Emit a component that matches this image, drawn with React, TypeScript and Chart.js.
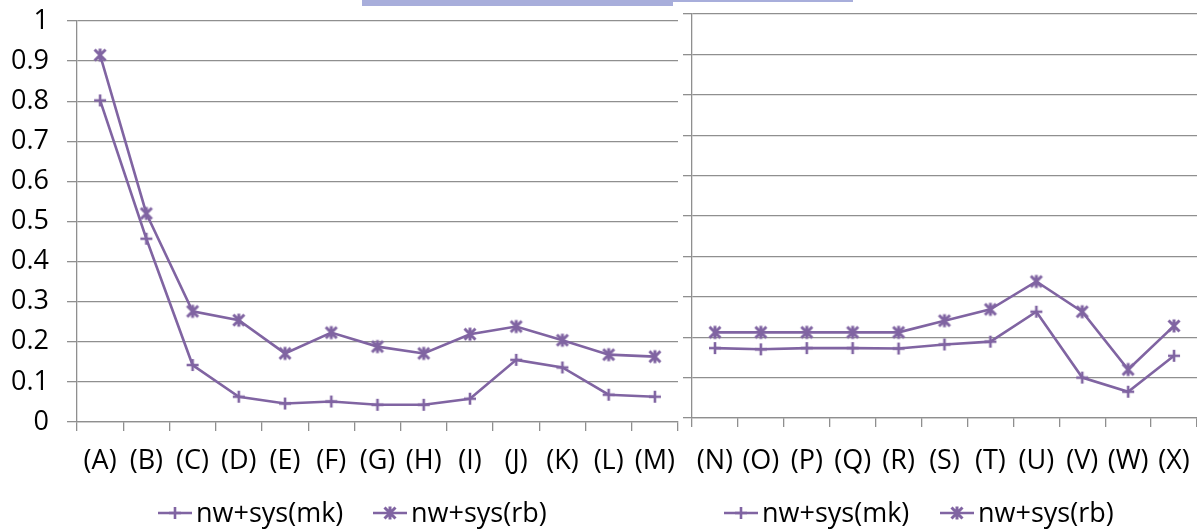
import React, { useEffect, useRef } from 'react';
import { Chart, registerables } from 'chart.js';

Chart.register(...registerables);

// ---------- data ----------
const leftCategories = ['(A)', '(B)', '(C)', '(D)', '(E)', '(F)', '(G)', '(H)', '(I)', '(J)', '(K)', '(L)', '(M)'];
const rightCategories = ['(N)', '(O)', '(P)', '(Q)', '(R)', '(S)', '(T)', '(U)', '(V)', '(W)', '(X)'];

const leftMk = [0.802, 0.457, 0.142, 0.063, 0.046, 0.051, 0.043, 0.043, 0.058, 0.155, 0.136, 0.068, 0.063];
const leftRb = [0.915, 0.52, 0.276, 0.254, 0.171, 0.223, 0.188, 0.171, 0.219, 0.238, 0.204, 0.168, 0.163];

const rightMk = [0.173, 0.17, 0.173, 0.173, 0.172, 0.182, 0.189, 0.263, 0.1, 0.065, 0.154];
const rightRb = [0.212, 0.212, 0.212, 0.212, 0.212, 0.241, 0.269, 0.338, 0.263, 0.12, 0.228];

const seriesNames = ['nw+sys(mk)', 'nw+sys(rb)'];
const yTickLabels = ['0', '0.1', '0.2', '0.3', '0.4', '0.5', '0.6', '0.7', '0.8', '0.9', '1'];

// ---------- styles ----------
const PURPLE = '#8064A2';
const GRID = '#8f8f8f';
const FONT = "'Open Sans', sans-serif";
const FONT_SIZE = 27;

function makeMarker(kind: 'plus' | 'star'): HTMLCanvasElement {
  const c = document.createElement('canvas');
  c.width = 16;
  c.height = 16;
  const ctx = c.getContext('2d')!;
  ctx.strokeStyle = PURPLE;
  ctx.lineCap = 'butt';
  ctx.beginPath();
  if (kind === 'plus') {
    ctx.lineWidth = 2.6;
    ctx.moveTo(2, 8);
    ctx.lineTo(14, 8);
    ctx.moveTo(8, 2);
    ctx.lineTo(8, 14);
  } else {
    ctx.lineWidth = 3;
    ctx.moveTo(2.5, 2.5);
    ctx.lineTo(13.5, 13.5);
    ctx.moveTo(2.5, 13.5);
    ctx.lineTo(13.5, 2.5);
    ctx.moveTo(8, 1.5);
    ctx.lineTo(8, 14.5);
  }
  ctx.stroke();
  return c;
}

type LegendItem = { x: number; label: string; marker: HTMLCanvasElement };

const legendPlugin = {
  id: 'customLegend',
  afterDraw(chart: any, _args: any, opts: any) {
    const items: LegendItem[] = opts.items || [];
    const ctx = chart.ctx as CanvasRenderingContext2D;
    const y = opts.y;
    ctx.save();
    items.forEach((it) => {
      ctx.strokeStyle = PURPLE;
      ctx.lineWidth = 2.6;
      ctx.beginPath();
      ctx.moveTo(it.x, y);
      ctx.lineTo(it.x + 34, y);
      ctx.stroke();
      ctx.drawImage(it.marker, it.x + 17 - 8, y - 8);
      ctx.fillStyle = '#000';
      ctx.font = `${FONT_SIZE}px ${FONT}`;
      ctx.textAlign = 'left';
      ctx.textBaseline = 'middle';
      ctx.fillText(it.label, it.x + 38, y + 1);
    });
    ctx.restore();
  },
};

function buildConfig(
  categories: string[],
  mk: number[],
  rb: number[],
  yWidth: number,
  yTickLen: number,
  showYLabels: boolean,
  xHeight: number,
  xPad: number,
  padTop: number,
  padRight: number,
  legendItems: { x: number; label: string; kind: 'plus' | 'star' }[]
): any {
  const plus = makeMarker('plus');
  const star = makeMarker('star');
  return {
    type: 'line',
    data: {
      labels: categories,
      datasets: [
        {
          label: seriesNames[0],
          data: mk,
          borderColor: PURPLE,
          backgroundColor: PURPLE,
          borderWidth: 2.6,
          pointStyle: plus,
          pointRadius: 8,
          tension: 0,
          clip: false,
        },
        {
          label: seriesNames[1],
          data: rb,
          borderColor: PURPLE,
          backgroundColor: PURPLE,
          borderWidth: 2.6,
          pointStyle: star,
          pointRadius: 8,
          tension: 0,
          clip: false,
        },
      ],
    },
    options: {
      responsive: false,
      animation: false,
      events: [],
      layout: { autoPadding: false, padding: { top: padTop, right: padRight, left: 0, bottom: 0 } },
      plugins: {
        legend: { display: false },
        tooltip: { enabled: false },
        customLegend: {
          y: 513,
          items: legendItems.map((l) => ({ x: l.x, label: l.label, marker: l.kind === 'plus' ? plus : star })),
        },
      },
      scales: {
        x: {
          type: 'category',
          offset: true,
          grid: {
            offset: true,
            drawOnChartArea: false,
            drawTicks: true,
            tickLength: 9,
            color: GRID,
            lineWidth: 1.3,
          },
          border: { display: true, color: GRID, width: 1.3 },
          ticks: {
            autoSkip: false,
            maxRotation: 0,
            minRotation: 0,
            padding: xPad,
            color: '#000',
            font: { family: FONT, size: FONT_SIZE },
          },
          afterFit(scale: any) {
            scale.height = xHeight;
            scale.paddingLeft = 0;
            scale.paddingRight = 0;
          },
        },
        y: {
          min: 0,
          max: 1,
          grid: {
            drawTicks: true,
            tickLength: yTickLen,
            color: GRID,
            lineWidth: 1.3,
          },
          border: { display: true, color: GRID, width: 1.3 },
          ticks: {
            stepSize: 0.1,
            display: showYLabels,
            padding: 18,
            color: '#000',
            font: { family: FONT, size: FONT_SIZE },
            callback: (_v: any, i: number) => yTickLabels[i],
          },
          afterFit(scale: any) {
            scale.width = yWidth;
            scale.paddingTop = 0;
            scale.paddingBottom = 0;
          },
        },
      },
    },
    plugins: [legendPlugin],
  };
}

export default function App() {
  const leftRef = useRef<HTMLCanvasElement>(null);
  const rightRef = useRef<HTMLCanvasElement>(null);

  useEffect(() => {
    const left = new Chart(
      leftRef.current!,
      buildConfig(leftCategories, leftMk, leftRb, 77, 10, true, 109, 14, 21, 5, [
        { x: 158, label: seriesNames[0], kind: 'plus' },
        { x: 373, label: seriesNames[1], kind: 'star' },
      ])
    );
    const right = new Chart(
      rightRef.current!,
      buildConfig(rightCategories, rightMk, rightRb, 12, 9, false, 113, 18, 14, 0, [
        { x: 724 - 680, label: seriesNames[0], kind: 'plus' },
        { x: 940 - 680, label: seriesNames[1], kind: 'star' },
      ])
    );
    return () => {
      left.destroy();
      right.destroy();
    };
  }, []);

  return (
    <div style={{ position: 'fixed', left: 0, top: 0, width: 1197, height: 531, background: '#fff', overflow: 'hidden' }}>
      <canvas ref={leftRef} width={683} height={531} style={{ position: 'absolute', left: 0, top: 0, width: 683, height: 531 }} />
      <canvas ref={rightRef} width={517} height={531} style={{ position: 'absolute', left: 680, top: 0, width: 517, height: 531 }} />
      {/* watermark fragment at the top edge */}
      <div style={{ position: 'absolute', left: 362, top: 0, width: 311, height: 6, background: '#A8AEDB' }} />
      <div style={{ position: 'absolute', left: 673, top: 0, width: 180, height: 2, background: '#A8AEDB' }} />
    </div>
  );
}
